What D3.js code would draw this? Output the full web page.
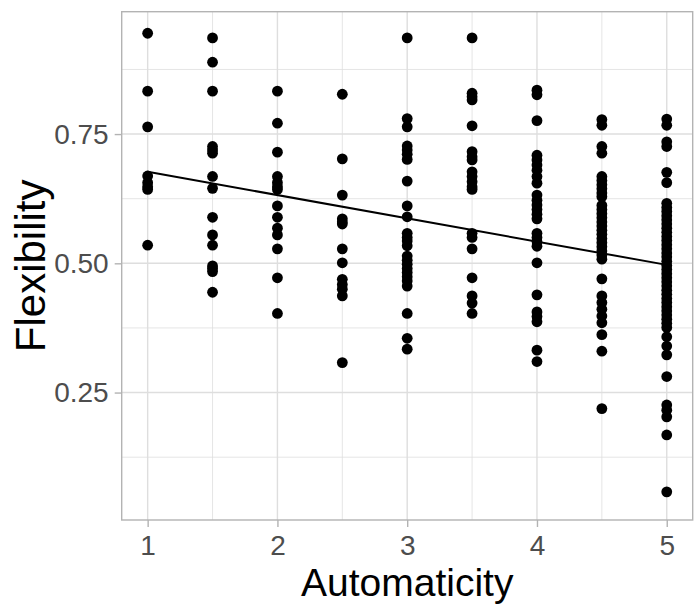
<!DOCTYPE html>
<html>
<head>
<meta charset="utf-8">
<script src="https://cdn.jsdelivr.net/npm/d3@7"></script>
<style>
  body { margin: 0; background: #fff; }
  text { font-family: "Liberation Sans", Arial, sans-serif; }
</style>
</head>
<body>
<div id="chart"></div>
<script>
// automaticity levels and the flexibility values
var levels = [1, 1.5, 2, 2.5, 3, 3.5, 4, 4.5, 5];
var flex1 = [0.945, 0.833, 0.764, 0.669, 0.656, 0.648, 0.643, 0.535];
var flex15 = [0.936, 0.889, 0.833, 0.726, 0.719, 0.713, 0.668, 0.645, 0.589, 0.555, 0.535, 0.495, 0.490, 0.484, 0.444];
var flex2 = [0.833, 0.771, 0.715, 0.668, 0.656, 0.648, 0.643, 0.611, 0.589, 0.568, 0.555, 0.528, 0.472, 0.403];
var flex25 = [0.827, 0.702, 0.632, 0.586, 0.580, 0.576, 0.528, 0.501, 0.469, 0.459, 0.450, 0.437, 0.308];
var flex3 = [0.936, 0.780, 0.764, 0.727, 0.719, 0.711, 0.701, 0.659, 0.611, 0.590, 0.558, 0.550, 0.543, 0.534,
             0.514, 0.506, 0.498, 0.490, 0.482, 0.474, 0.466, 0.456, 0.403, 0.355, 0.334];
var flex35 = [0.936, 0.829, 0.822, 0.816, 0.766, 0.716, 0.706, 0.700, 0.677, 0.668, 0.658, 0.648, 0.643,
              0.558, 0.550, 0.528, 0.472, 0.437, 0.423, 0.403];
var flex4 = [0.835, 0.826, 0.776, 0.709, 0.700, 0.690, 0.680, 0.668, 0.655, 0.632, 0.622, 0.613, 0.604, 0.595,
             0.586, 0.558, 0.550, 0.542, 0.533, 0.501, 0.439, 0.406, 0.397, 0.387, 0.332, 0.310];
var flex45 = [0.778, 0.767, 0.726, 0.713, 0.668, 0.660, 0.652, 0.644, 0.636, 0.629, 0.612, 0.604, 0.596, 0.588,
              0.580, 0.572, 0.564, 0.556, 0.548, 0.540, 0.532, 0.524, 0.516, 0.508, 0.470, 0.437, 0.424, 0.411,
              0.398, 0.385, 0.362, 0.330, 0.219];
var flex5 = [0.779, 0.767, 0.735, 0.726, 0.676, 0.656, 0.616, 0.608, 0.600, 0.592, 0.584, 0.576, 0.568, 0.560,
             0.552, 0.544, 0.536, 0.528, 0.520, 0.512, 0.504, 0.496, 0.488, 0.480, 0.472, 0.464, 0.456, 0.448,
             0.440, 0.432, 0.424, 0.416, 0.408, 0.400, 0.392, 0.384, 0.376, 0.358, 0.340, 0.323, 0.281, 0.226,
             0.216, 0.203, 0.168, 0.058];
var columns = [flex1, flex15, flex2, flex25, flex3, flex35, flex4, flex45, flex5];

// fitted line (lm) ends
var fitX = [1, 5];
var fitY = [0.677, 0.497];

var xTicks = [1, 2, 3, 4, 5];
var xMinor = [1.5, 2.5, 3.5, 4.5];
var yTicks = [0.25, 0.50, 0.75];
var yMinor = [0.125, 0.375, 0.625, 0.875];

var svgW = 700, svgH = 609;
var panel = { left: 121.7, right: 692.7, top: 11.7, bottom: 520 };

var svg = d3.select("#chart").append("svg")
    .attr("width", svgW).attr("height", svgH);

var x = d3.scaleLinear().domain([0.8, 5.2]).range([panel.left, panel.right]);
var y = d3.scaleLinear().domain([0.0035, 0.9867]).range([panel.bottom, panel.top]);

var points = [];
columns.forEach(function(col, i) {
    col.forEach(function(v) { points.push({ a: levels[i], f: v }); });
});

var grid = svg.append("g");
grid.selectAll(".vminor").data(xMinor).enter().append("line")
    .attr("x1", d => x(d)).attr("x2", d => x(d))
    .attr("y1", panel.top).attr("y2", panel.bottom)
    .attr("stroke", "#dedede").attr("stroke-width", 0.8);
grid.selectAll(".hminor").data(yMinor).enter().append("line")
    .attr("y1", d => y(d)).attr("y2", d => y(d))
    .attr("x1", panel.left).attr("x2", panel.right)
    .attr("stroke", "#dedede").attr("stroke-width", 0.8);
grid.selectAll(".vmajor").data(xTicks).enter().append("line")
    .attr("x1", d => x(d)).attr("x2", d => x(d))
    .attr("y1", panel.top).attr("y2", panel.bottom)
    .attr("stroke", "#dedede").attr("stroke-width", 1.4);
grid.selectAll(".hmajor").data(yTicks).enter().append("line")
    .attr("y1", d => y(d)).attr("y2", d => y(d))
    .attr("x1", panel.left).attr("x2", panel.right)
    .attr("stroke", "#dedede").attr("stroke-width", 1.4);

svg.append("g").selectAll("circle")
    .data(points).enter().append("circle")
    .attr("cx", d => x(d.a))
    .attr("cy", d => y(d.f))
    .attr("r", 5.4).attr("fill", "#000");

svg.append("path")
    .datum(fitX.map((d, i) => [d, fitY[i]]))
    .attr("d", d3.line().x(d => x(d[0])).y(d => y(d[1])))
    .attr("fill", "none").attr("stroke", "#000").attr("stroke-width", 2);

svg.append("rect")
    .attr("x", panel.left).attr("y", panel.top)
    .attr("width", panel.right - panel.left).attr("height", panel.bottom - panel.top)
    .attr("fill", "none").attr("stroke", "#b3b3b3").attr("stroke-width", 1.4);

var xAxis = d3.axisBottom(x).tickValues(xTicks).tickSize(7).tickPadding(8)
    .tickFormat(d3.format("d"));
var gx = svg.append("g").attr("transform", `translate(0, ${panel.bottom})`).call(xAxis);
gx.select(".domain").remove();
gx.selectAll("line").attr("stroke", "#b3b3b3").attr("stroke-width", 1.4);
gx.selectAll("text").attr("fill", "#4d4d4d").attr("font-size", 28)
    .attr("font-family", "Liberation Sans, Arial, sans-serif");

var yAxis = d3.axisLeft(y).tickValues(yTicks).tickSize(7).tickPadding(6)
    .tickFormat(d3.format(".2f"));
var gy = svg.append("g").attr("transform", `translate(${panel.left}, 0)`).call(yAxis);
gy.select(".domain").remove();
gy.selectAll("line").attr("stroke", "#b3b3b3").attr("stroke-width", 1.4);
gy.selectAll("text").attr("fill", "#4d4d4d").attr("font-size", 28)
    .attr("font-family", "Liberation Sans, Arial, sans-serif");

svg.append("text")
    .attr("x", (panel.left + panel.right) / 2).attr("y", 596)
    .attr("text-anchor", "middle").attr("font-size", 39).attr("fill", "#000")
    .text("Automaticity");

svg.append("text")
    .attr("transform", `translate(45, ${(panel.top + panel.bottom) / 2}) rotate(-90)`)
    .attr("text-anchor", "middle").attr("font-size", 42).attr("fill", "#000")
    .text("Flexibility");
</script>
</body>
</html>
